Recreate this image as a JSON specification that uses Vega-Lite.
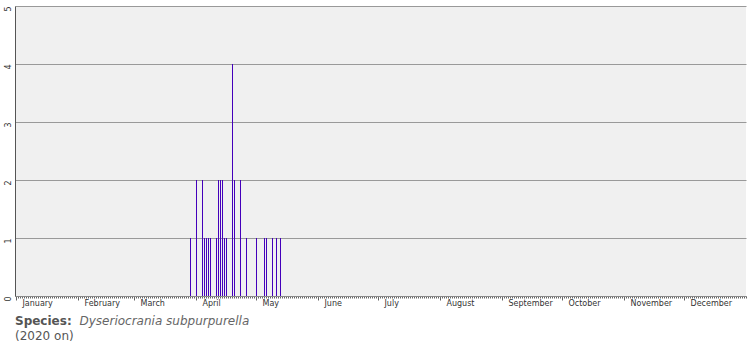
{
  "$schema": "https://vega.github.io/schema/vega-lite/v6.json",
  "width": 731,
  "height": 290,
  "autosize": {"type": "none"},
  "padding": {"left": 15, "top": 6, "right": 9, "bottom": 54},
  "background": "white",
  "view": {"fill": "#f0f0f0", "stroke": null},
  "title": {
    "text": "Species:",
    "subtitle": "(2020 on)",
    "orient": "bottom",
    "anchor": "start",
    "frame": "group",
    "font": "DejaVu Sans",
    "fontSize": 12,
    "fontWeight": "bold",
    "color": "#555555",
    "subtitleFont": "DejaVu Sans",
    "subtitleFontSize": 12,
    "subtitleColor": "#555555",
    "subtitlePadding": 3,
    "offset": -10
  },
  "data": {
    "values": [
      {"date": "Mar 29", "day": 87, "count": 1},
      {"date": "Apr 1", "day": 90, "count": 2},
      {"date": "Apr 4", "day": 93, "count": 2},
      {"date": "Apr 5", "day": 94, "count": 1},
      {"date": "Apr 6", "day": 95, "count": 1},
      {"date": "Apr 7", "day": 96, "count": 1},
      {"date": "Apr 8", "day": 97, "count": 1},
      {"date": "Apr 11", "day": 100, "count": 1},
      {"date": "Apr 12", "day": 101, "count": 2},
      {"date": "Apr 13", "day": 102, "count": 2},
      {"date": "Apr 14", "day": 103, "count": 2},
      {"date": "Apr 15", "day": 104, "count": 1},
      {"date": "Apr 16", "day": 105, "count": 1},
      {"date": "Apr 19", "day": 108, "count": 4},
      {"date": "Apr 20", "day": 109, "count": 2},
      {"date": "Apr 23", "day": 112, "count": 2},
      {"date": "Apr 26", "day": 115, "count": 1},
      {"date": "May 1", "day": 120, "count": 1},
      {"date": "May 5", "day": 124, "count": 1},
      {"date": "May 6", "day": 125, "count": 1},
      {"date": "May 9", "day": 128, "count": 1},
      {"date": "May 11", "day": 130, "count": 1},
      {"date": "May 13", "day": 132, "count": 1}
    ]
  },
  "mark": {"type": "rule", "color": "#4400bb", "strokeWidth": 1, "xOffset": 0.5},
  "encoding": {
    "x": {
      "field": "day",
      "type": "quantitative",
      "scale": {"domain": [-0.5, 365], "nice": false, "zero": false},
      "axis": {
        "title": "Dyseriocrania subpurpurella",
        "titleFont": "DejaVu Sans",
        "titleFontSize": 12,
        "titleFontStyle": "italic",
        "titleFontWeight": "normal",
        "titleColor": "#666666",
        "titleAnchor": "start",
        "titleAlign": "left",
        "titleBaseline": "alphabetic",
        "titleX": 64,
        "titleY": 28,
        "tickCount": 365,
        "grid": false,
        "domainColor": "#888888",
        "tickColor": "#666666",
        "tickSize": {
          "condition": {"test": "indexof([0,31,59,90,120,151,181,212,243,273,304,334], datum.value) >= 0", "value": 4},
          "value": 2
        },
        "labelExpr": "indexof([0,31,59,90,120,151,181,212,243,273,304,334], datum.value) >= 0 ? ['January','February','March','April','May','June','July','August','September','October','November','December'][indexof([0,31,59,90,120,151,181,212,243,273,304,334], datum.value)] : ''",
        "labelAlign": "left",
        "labelOffset": 6,
        "labelBaseline": "top",
        "labelPadding": -1,
        "labelFont": "DejaVu Sans",
        "labelFontSize": 8,
        "labelColor": "#333333",
        "labelFlush": false,
        "labelOverlap": false
      }
    },
    "y": {
      "field": "count",
      "type": "quantitative",
      "scale": {"domain": [0, 5], "nice": false},
      "axis": {
        "title": null,
        "values": [0, 1, 2, 3, 4, 5],
        "grid": true,
        "gridColor": "#999999",
        "gridWidth": 1,
        "gridOpacity": 1,
        "ticks": false,
        "domainColor": "#555555",
        "labelAngle": -90,
        "labelAlign": "right",
        "labelBaseline": "alphabetic",
        "labelPadding": 5,
        "labelFont": "DejaVu Sans",
        "labelFontSize": 8,
        "labelColor": "#333333",
        "labelFlush": false,
        "labelOverlap": false
      }
    },
    "y2": {"datum": 0}
  }
}
